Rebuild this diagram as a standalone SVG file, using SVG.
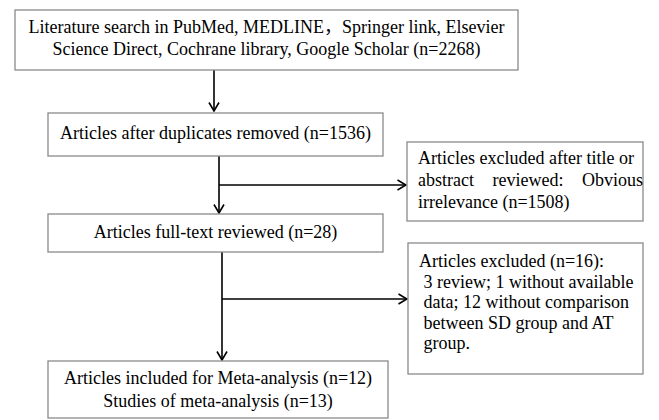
<svg xmlns="http://www.w3.org/2000/svg" width="659" height="420" viewBox="0 0 659 420">
<style>
.box{fill:#fff;stroke:#8a8a8a;stroke-width:1.3}
.t{font-family:"Liberation Serif","Noto Sans CJK SC",serif;font-size:18px;fill:#000}
.c{text-anchor:middle}
.ln{fill:none;stroke:#000;stroke-width:1.6}
</style>
<defs>
<marker id="ah" viewBox="0 0 10 12" refX="9.5" refY="6" markerWidth="10" markerHeight="12" markerUnits="userSpaceOnUse" orient="auto">
<polyline points="1,1 9.5,6 1,11" fill="none" stroke="#000" stroke-width="1.6"/>
</marker>
</defs>
<g id="connectors">
<line class="ln" x1="214" y1="70" x2="214" y2="111" marker-end="url(#ah)"/>
<line class="ln" x1="219" y1="156" x2="219" y2="213" marker-end="url(#ah)"/>
<line class="ln" x1="219" y1="185" x2="406" y2="185" marker-end="url(#ah)"/>
<line class="ln" x1="222" y1="252" x2="222" y2="360" marker-end="url(#ah)"/>
<line class="ln" x1="222" y1="299" x2="407" y2="299" marker-end="url(#ah)"/>
</g>
<g id="search">
<rect class="box" x="15" y="10" width="503" height="60"/>
<text class="t c" x="266.5" y="33">Literature search in PubMed, MEDLINE，Springer link, Elsevier</text>
<text class="t c" x="266.5" y="55">Science Direct, Cochrane library, Google Scholar (n=2268)</text>
</g>
<g id="dedup">
<rect class="box" x="48" y="113" width="335" height="43"/>
<text class="t c" x="215.5" y="139">Articles after duplicates removed (n=1536)</text>
</g>
<g id="excluded1">
<rect class="box" x="407" y="142" width="236" height="79"/>
<text class="t" x="418" y="164">Articles excluded after title or</text>
<text class="t" x="418" y="186" word-spacing="14">abstract reviewed: Obvious</text>
<text class="t" x="418" y="208">irrelevance (n=1508)</text>
</g>
<g id="fulltext">
<rect class="box" x="48" y="214" width="335" height="38"/>
<text class="t c" x="215.5" y="238">Articles full-text reviewed (n=28)</text>
</g>
<g id="excluded2">
<rect class="box" x="408" y="243" width="235" height="131"/>
<text class="t" x="419" y="267">Articles excluded (n=16):</text>
<text class="t" x="423.5" y="288">3 review; 1 without available</text>
<text class="t" x="423.5" y="308">data; 12 without comparison</text>
<text class="t" x="423.5" y="329">between SD group and AT</text>
<text class="t" x="423.5" y="349">group.</text>
</g>
<g id="included">
<rect class="box" x="48" y="361" width="340" height="57"/>
<text class="t c" x="218" y="384">Articles included for Meta-analysis (n=12)</text>
<text class="t c" x="218" y="407">Studies of meta-analysis (n=13)</text>
</g>
</svg>
